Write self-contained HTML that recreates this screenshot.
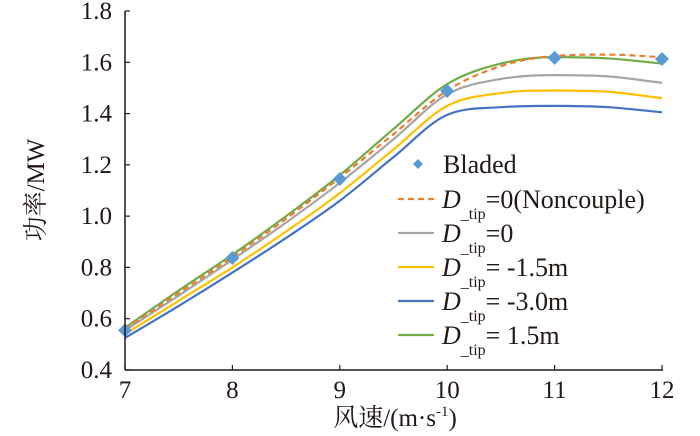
<!DOCTYPE html>
<html><head><meta charset="utf-8"><style>
body{margin:0;background:#fff}
svg{display:block}
text{font-family:"Liberation Serif","Times New Roman","DejaVu Serif","Noto Serif CJK SC",serif}
</style></head><body>
<svg id="chart" width="700" height="436" viewBox="0 0 700 436" xmlns="http://www.w3.org/2000/svg">
<g id="plot"></g>
<g id="axes"></g>
<text x="44" y="190" font-size="25" text-anchor="middle" transform="rotate(-90 44 190)" fill="#231815">功率/MW</text>
<text x="395" y="426" font-size="25" text-anchor="middle" fill="#231815">风速/(m·s<tspan font-size="15" dy="-10">-1</tspan><tspan dy="10">)</tspan></text>
<g id="legend"></g>
</svg>
<script>
const windSpeeds=[7,7.5,8,8.5,9,9.5,10,10.5,11,11.5,12];
const bladedX=[7,8,9,10,11,12];
const bladedY=[0.555,0.837,1.145,1.488,1.617,1.613];
const nonCouple=[0.56,0.70,0.84,0.99,1.15,1.32,1.49,1.585,1.625,1.63,1.62];
const tip0=[0.555,0.69,0.83,0.975,1.13,1.30,1.475,1.535,1.55,1.545,1.52];
const tipM15=[0.54,0.67,0.80,0.94,1.09,1.26,1.43,1.48,1.49,1.485,1.46];
const tipM30=[0.525,0.65,0.78,0.915,1.06,1.23,1.395,1.425,1.43,1.425,1.405];
const tipP15=[0.565,0.71,0.85,1.0,1.16,1.34,1.515,1.595,1.62,1.615,1.595];
const xTicks=[7,8,9,10,11,12];
const yTicks=[0.4,0.6,0.8,1.0,1.2,1.4,1.6,1.8];
const yTickLabels=["0.4","0.6","0.8","1.0","1.2","1.4","1.6","1.8"];

const NS="http://www.w3.org/2000/svg";
const X=v=>125+(v-7)*107.4;
const Y=v=>370-(v-0.4)/1.4*359;
function mk(tag,attrs,parent){const e=document.createElementNS(NS,tag);for(const k in attrs)e.setAttribute(k,attrs[k]);parent.appendChild(e);return e;}
function smooth(xs,ys){
  const n=xs.length,d=[],m=[];
  for(let i=0;i<n-1;i++)d.push((ys[i+1]-ys[i])/(xs[i+1]-xs[i]));
  m[0]=d[0];m[n-1]=d[n-2];
  for(let i=1;i<n-1;i++){m[i]=(d[i-1]*d[i]<=0)?0:(d[i-1]+d[i])/2;}
  for(let i=0;i<n-1;i++){
    if(d[i]===0){m[i]=0;m[i+1]=0;continue;}
    const a=m[i]/d[i],b=m[i+1]/d[i],s=a*a+b*b;
    if(s>9){const t=3/Math.sqrt(s);m[i]=t*a*d[i];m[i+1]=t*b*d[i];}
  }
  let p="M"+X(xs[0])+","+Y(ys[0]);
  for(let i=0;i<n-1;i++){
    const h=xs[i+1]-xs[i];
    p+=` C${X(xs[i]+h/3)},${Y(ys[i]+m[i]*h/3)} ${X(xs[i+1]-h/3)},${Y(ys[i+1]-m[i+1]*h/3)} ${X(xs[i+1])},${Y(ys[i+1])}`;
  }
  return p;
}
const plot=document.getElementById('plot');
const series=[
 {name:'series-tip-minus-3',vals:tipM30,color:'#4472c4',dash:null},
 {name:'series-tip-minus-1-5',vals:tipM15,color:'#ffc000',dash:null},
 {name:'series-tip-0',vals:tip0,color:'#a5a5a5',dash:null},
 {name:'series-tip-plus-1-5',vals:tipP15,color:'#70ad47',dash:null},
 {name:'series-noncouple',vals:nonCouple,color:'#ed7d31',dash:'6,4'}
];
series.forEach(s=>{
  const e=mk('path',{d:smooth(windSpeeds,s.vals),fill:'none',stroke:s.color,'stroke-width':2.2},plot);
  if(s.dash)e.setAttribute('stroke-dasharray',s.dash);
  
  
});
bladedX.forEach((x,i)=>{
  const cx=X(x),cy=Y(bladedY[i]);
  const e=mk('polygon',{points:`${cx},${cy-7} ${cx+7},${cy} ${cx},${cy+7} ${cx-7},${cy}`,fill:'#5b9bd5'},plot);
  
  
});
const axes=document.getElementById('axes');
mk('line',{x1:125,y1:11,x2:125,y2:370,stroke:'#231815','stroke-width':1.5},axes);
mk('line',{x1:125,y1:370,x2:663,y2:370,stroke:'#231815','stroke-width':1.5},axes);
yTicks.forEach((v,i)=>{
  mk('line',{x1:125,y1:Y(v),x2:130,y2:Y(v),stroke:'#231815','stroke-width':1.2},axes);
  const t=mk('text',{x:112,y:Y(v)+8,'font-size':25,'text-anchor':'end',fill:'#231815'},axes);
  t.textContent=yTickLabels[i];
  
  
});
xTicks.forEach(v=>{
  mk('line',{x1:X(v),y1:370,x2:X(v),y2:365,stroke:'#231815','stroke-width':1.2},axes);
  const t=mk('text',{x:X(v),y:398,'font-size':25,'text-anchor':'middle',fill:'#231815'},axes);
  t.textContent=String(v);
  
  
});
const lg=document.getElementById('legend');
mk('polygon',{points:'418,159 423,164 418,169 413,164',fill:'#5b9bd5'},lg);
const bt=mk('text',{x:443,y:173,'font-size':26,fill:'#231815'},lg);bt.textContent='Bladed';


const items=[['#ed7d31','6,4','=0(Noncouple)'],['#a5a5a5',null,'=0'],['#ffc000',null,'= -1.5m'],['#4472c4',null,'= -3.0m'],['#70ad47',null,'= 1.5m']];
items.forEach((it,i)=>{
  const y=199+i*34;
  const l=mk('line',{x1:398,y1:y,x2:434,y2:y,stroke:it[0],'stroke-width':2.2},lg);
  if(it[1])l.setAttribute('stroke-dasharray',it[1]);
  const t=mk('text',{x:442,y:y+9,'font-size':26,fill:'#231815'},lg);
  t.innerHTML='<tspan font-style="italic">D</tspan><tspan font-size="16" dy="11">_tip</tspan><tspan dy="-11">'+it[2]+'</tspan>';
  
  
});
</script>
</body></html>
